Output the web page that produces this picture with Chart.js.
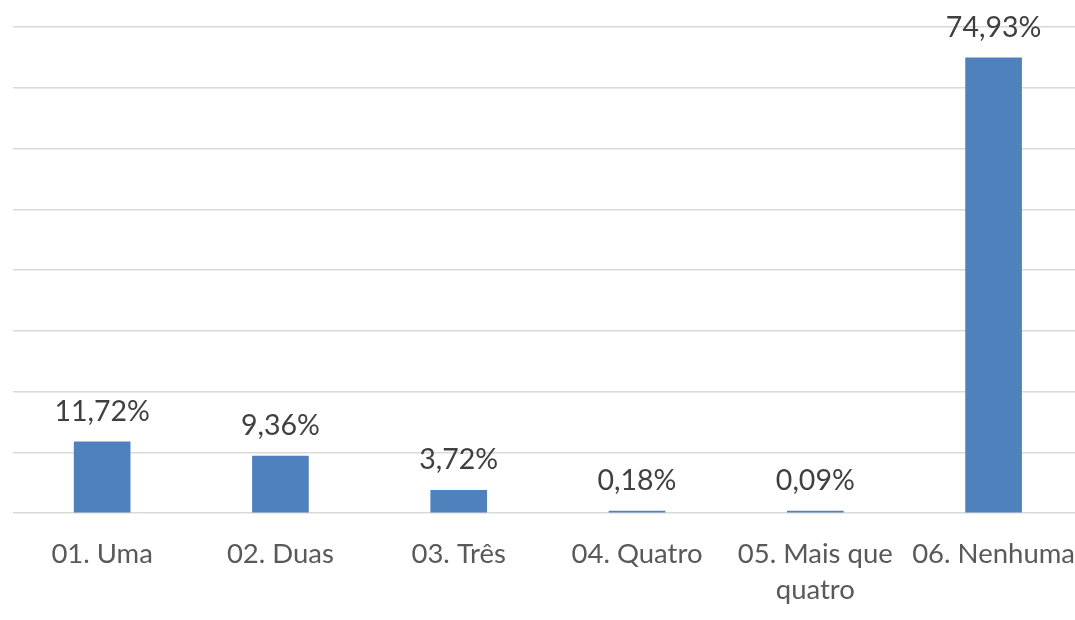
<!DOCTYPE html>
<html>
<head>
<meta charset="utf-8">
<script src="https://cdn.jsdelivr.net/npm/chart.js@4"></script>
<style>
  html, body { margin: 0; padding: 0; background: #fff; overflow: hidden; }
  #wrap { width: 1090px; height: 620px; }
</style>
</head>
<body>
<div id="wrap"><canvas id="chart"></canvas></div>
<script>
(function() {

  const categories = ['01. Uma', '02. Duas', '03. Três', '04. Quatro', ['05. Mais que', 'quatro'], '06. Nenhuma'];
  const values = [11.72, 9.36, 3.72, 0.18, 0.09, 74.93];

  const fontFamily = 'Lato, "Open Sans", sans-serif';

  const valueLabels = {
    id: 'valueLabels',
    afterDatasetsDraw(chart) {
      const ctx = chart.ctx;
      const meta = chart.getDatasetMeta(0);
      ctx.save();
      ctx.font = '28.5px ' + fontFamily;
      ctx.fillStyle = '#404040';
      ctx.textAlign = 'center';
      ctx.textBaseline = 'alphabetic';
      meta.data.forEach((bar, i) => {
        const text = values[i].toFixed(2).replace('.', ',') + '%';
        ctx.fillText(text, bar.x, bar.y - 21);
      });
      ctx.restore();
    }
  };

  const ctx = document.getElementById('chart');
  new Chart(ctx, {
    type: 'bar',
    data: {
      labels: categories,
      datasets: [{
        data: values,
        backgroundColor: '#4f81bd',
        borderWidth: 0,
        barThickness: 56,
        minBarLength: 2,
      }]
    },
    options: {
      responsive: true,
      maintainAspectRatio: false,
      animation: false,
      layout: { padding: { left: 13, right: 0, top: 27, bottom: 0 } },
      plugins: {
        legend: { display: false },
        tooltip: { enabled: false },
      },
      scales: {
        x: {
          grid: { display: false },
          border: { display: false },
          afterFit(scale) { scale.height = 107; },
          ticks: {
            color: '#595959',
            font: { family: fontFamily, size: 27.5, lineHeight: 1.3 },
            padding: 15,
            maxRotation: 0,
            autoSkip: false,
          }
        },
        y: {
          min: 0,
          max: 80,
          ticks: { display: false, stepSize: 10 },
          grid: { color: '#d9d9d9', lineWidth: 1.5, drawTicks: false },
          border: { display: false },
        }
      }
    },
    plugins: [valueLabels]
  });

})();
</script>
</body>
</html>
